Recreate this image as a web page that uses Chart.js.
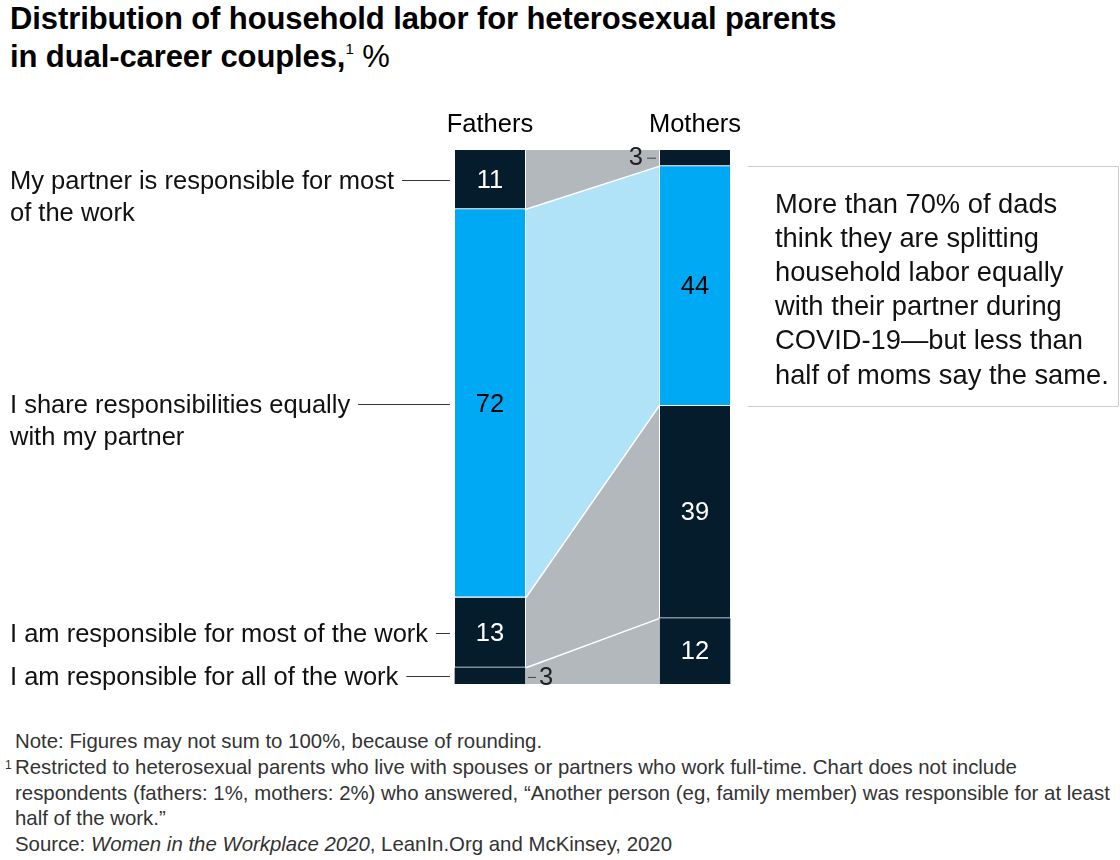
<!DOCTYPE html>
<html>
<head>
<meta charset="utf-8">
<script src="https://cdn.jsdelivr.net/npm/chart.js@4"></script>
<style>
  body { margin: 0; background: #fff; }
  #wrap { position: relative; width: 1120px; height: 860px; font-family: "Liberation Sans", Arial, sans-serif; color: #000; }
  #title { position: absolute; left: 10px; top: 0px; margin: 0; font-size: 31px; line-height: 38px; font-weight: bold; letter-spacing: -0.1px; }
  #title sup { font-size: 15px; font-weight: normal; vertical-align: 13px; line-height: 0; }
  #title .unit { font-weight: normal; }
  canvas { position: absolute; left: 0; top: 0; }
  #notes { position: absolute; left: 15px; top: 729px; font-size: 20.4px; line-height: 25.8px; color: #333; }
  #notes .fn { position: relative; }
  #notes .fn sup { position: absolute; left: -10px; top: 4px; font-size: 12px; line-height: 1; }
</style>
</head>
<body>
<div id="wrap">
  <h1 id="title">Distribution of household labor for heterosexual parents<br>in dual-career couples,<sup>1</sup> <span class="unit">%</span></h1>
  <canvas id="chart" width="1120" height="720"></canvas>
  <div id="notes">
    <div>Note: Figures may not sum to 100%, because of rounding.</div>
    <div class="fn"><sup>1</sup>Restricted to heterosexual parents who live with spouses or partners who work full-time. Chart does not include<br>respondents (fathers: 1%, mothers: 2%) who answered, “Another person (eg, family member) was responsible for at least<br>half of the work.”</div>
    <div>Source: <i>Women in the Workplace 2020</i>, LeanIn.Org and McKinsey, 2020</div>
  </div>
</div>
<script>
// groups and answers, stacked from the bottom up
const groups = ["Fathers", "Mothers"];
const answers = [
  ["I am responsible for all of the work"],
  ["I am responsible for most of the work"],
  ["I share responsibilities equally", "with my partner"],
  ["My partner is responsible for most", "of the work"]
];
const fathers = [3, 13, 72, 11];
const mothers = [12, 39, 44, 3];
const calloutLines = [
  "More than 70% of dads",
  "think they are splitting",
  "household labor equally",
  "with their partner during",
  "COVID-19\u2014but less than",
  "half of moms say the same."
];

const NAVY = "#051C2C";
const BLUE = "#00A9F4";
const LIGHT = "#B0E3F8";
const GRAY = "#B3B8BD";
const FONT = '"Liberation Sans", Arial, sans-serif';
const barColors = [NAVY, NAVY, BLUE, NAVY];
const bandColors = [GRAY, GRAY, LIGHT, GRAY];
const shareIndex = 2;

// each bar fills the full height (figures don't sum to 100 because of rounding)
const totals = [fathers, mothers].map(a => a.reduce((s, v) => s + v, 0));

const datasets = answers.map((a, i) => ({
  label: a.join(" "),
  data: [fathers[i] / totals[0] * 100, mothers[i] / totals[1] * 100],
  raw: [fathers[i], mothers[i]],
  backgroundColor: barColors[i],
  borderColor: "#fff",
  borderWidth: i === 0 ? 0 : { top: 0, left: 0, right: 0, bottom: 1.5 },
  borderSkipped: false,
  barThickness: 70,
  bandColor: bandColors[i]
}));

// bands joining the two bars
const bands = {
  id: "bands",
  beforeDatasetsDraw(chart) {
    const ctx = chart.ctx;
    ctx.save();
    chart.data.datasets.forEach((ds, i) => {
      const [f, m] = chart.getDatasetMeta(i).data;
      const x1 = f.x + f.width / 2 + 1;
      const x2 = m.x - m.width / 2 - 1;
      ctx.fillStyle = ds.bandColor;
      ctx.beginPath();
      ctx.moveTo(x1, f.y);
      ctx.lineTo(x2, m.y);
      ctx.lineTo(x2, m.base);
      ctx.lineTo(x1, f.base);
      ctx.closePath();
      ctx.fill();
    });
    ctx.strokeStyle = "#fff";
    ctx.lineWidth = 1.5;
    for (let i = 0; i < chart.data.datasets.length - 1; i++) {
      const [f, m] = chart.getDatasetMeta(i).data;
      ctx.beginPath();
      ctx.moveTo(f.x + f.width / 2 + 1, f.y);
      ctx.lineTo(m.x - m.width / 2 - 1, m.y);
      ctx.stroke();
    }
    ctx.restore();
  }
};

// numbers, row labels and the callout
const labels = {
  id: "labels",
  afterDatasetsDraw(chart) {
    const ctx = chart.ctx;
    ctx.save();
    ctx.textBaseline = "middle";

    chart.data.datasets.forEach((ds, i) => {
      chart.getDatasetMeta(i).data.forEach((bar, j) => {
        const v = ds.raw[j];
        const cy = (bar.y + bar.base) / 2;
        ctx.font = "25.5px " + FONT;
        if (v >= 5) {
          ctx.textAlign = "center";
          ctx.fillStyle = i === shareIndex ? "#000" : "#fff";
          ctx.fillText(String(v), bar.x, cy + 1);
        } else {
          // tiny segments get an outside label with a tick
          ctx.fillStyle = "#222";
          ctx.strokeStyle = "#444";
          ctx.lineWidth = 1;
          ctx.beginPath();
          if (j === 0) {
            const x = bar.x + bar.width / 2;
            ctx.moveTo(x + 3, cy + 1.5); ctx.lineTo(x + 11, cy + 1.5);
            ctx.stroke();
            ctx.textAlign = "left";
            ctx.fillText(String(v), x + 14, cy + 2);
          } else {
            const x = bar.x - bar.width / 2;
            ctx.moveTo(x - 4, cy); ctx.lineTo(x - 13, cy);
            ctx.stroke();
            ctx.textAlign = "right";
            ctx.fillText(String(v), x - 17, cy);
          }
        }
      });

      // answer labels on the left, lined up with the fathers bar
      const f = chart.getDatasetMeta(i).data[0];
      const cy = (f.y + f.base) / 2;
      ctx.font = "25.5px " + FONT;
      ctx.textAlign = "left";
      ctx.fillStyle = "#111";
      answers[i].forEach((line, k) => ctx.fillText(line, 10, cy + 2 + k * 32));
      const end = 10 + ctx.measureText(answers[i][0]).width + 8;
      ctx.strokeStyle = "#333";
      ctx.lineWidth = 1;
      ctx.beginPath();
      ctx.moveTo(end, Math.round(cy) + 0.5);
      ctx.lineTo(f.x - f.width / 2 - 5, Math.round(cy) + 0.5);
      ctx.stroke();
    });

    // callout box tied to the mothers "share equally" segment
    const m = chart.getDatasetMeta(shareIndex).data[1];
    const left = m.x + m.width / 2 + 18;
    const right = chart.width - 2;
    const top = Math.round(m.y) + 0.5;
    const bottom = Math.round(m.base) + 0.5;
    ctx.strokeStyle = "#CCCCCC";
    ctx.lineWidth = 1;
    ctx.beginPath();
    ctx.moveTo(left, top); ctx.lineTo(right + 0.5, top);
    ctx.lineTo(right + 0.5, bottom); ctx.lineTo(left, bottom);
    ctx.stroke();
    ctx.font = "27.3px " + FONT;
    ctx.fillStyle = "#111";
    ctx.textAlign = "left";
    const lh = 34.2;
    const y0 = (top + bottom) / 2 - lh * (calloutLines.length - 1) / 2 + 4;
    calloutLines.forEach((line, k) => ctx.fillText(line, left + 27, y0 + k * lh));
    ctx.restore();
  }
};

new Chart(document.getElementById("chart"), {
  type: "bar",
  data: { labels: groups, datasets: datasets },
  options: {
    responsive: false,
    animation: false,
    layout: { padding: { top: 100, bottom: 36, left: 387.5, right: 322.5 } },
    plugins: { legend: { display: false }, tooltip: { enabled: false } },
    scales: {
      x: {
        stacked: true,
        position: "top",
        grid: { display: false, drawTicks: false },
        border: { display: false },
        ticks: { color: "#000", font: { family: FONT, size: 25.5 }, padding: 10 },
        afterFit(scale) { scale.height = 50; }
      },
      y: { stacked: true, display: false, min: 0, max: 100 }
    }
  },
  plugins: [bands, labels]
});
</script>
</body>
</html>
